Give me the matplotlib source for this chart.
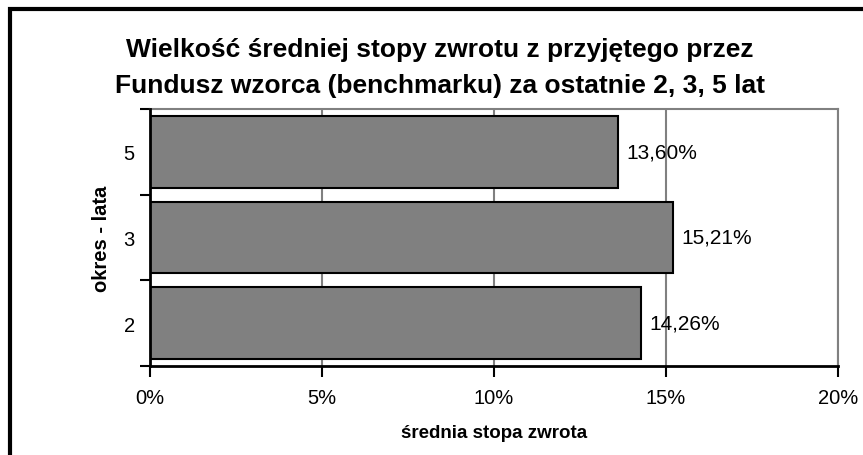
import numpy as np
import matplotlib.pyplot as plt
from matplotlib.patches import Rectangle
from matplotlib.ticker import FuncFormatter

plt.rcParams['font.family'] = ['Liberation Sans', 'DejaVu Sans']

periods = ['2', '3', '5']
returns = [14.26, 15.21, 13.60]
x_ticks = [0, 5, 10, 15, 20]

title = 'Wielkość średniej stopy zwrotu z przyjętego przez\nFundusz wzorca (benchmarku) za ostatnie 2, 3, 5 lat'

fig = plt.figure(figsize=(8.63, 4.56), dpi=100)
ax = fig.add_axes([150 / 863, 1 - 367 / 456, 688 / 863, 257 / 456])

y_pos = np.arange(len(periods))
ax.barh(y_pos, returns, height=0.84, color='#808080', edgecolor='black',
        linewidth=1.5, zorder=3)

for y, v in zip(y_pos, returns):
    ax.text(v + 0.25, y, f'{v:.2f}%'.replace('.', ','), va='center',
            ha='left', fontsize=15, zorder=4)

ax.set_xlim(0, 20)
ax.set_ylim(-0.5, len(periods) - 0.5)
ax.set_xticks(x_ticks)
ax.xaxis.set_major_formatter(FuncFormatter(lambda v, p: f'{v:.0f}%'))
ax.set_yticks(y_pos)
ax.set_yticklabels(periods)
ax.set_yticks(np.arange(len(periods) + 1) - 0.5, minor=True)
ax.tick_params(axis='y', which='major', length=0, pad=11, labelsize=14.5)
ax.tick_params(axis='y', which='minor', length=7, width=1.5, direction='out')
ax.tick_params(axis='x', length=8, width=1.5, direction='out', pad=8,
               labelsize=14.5)

ax.grid(axis='x', color='#808080', linewidth=1.5, zorder=0)
for side in ['top', 'right']:
    ax.spines[side].set_color('#808080')
    ax.spines[side].set_linewidth(1.5)
for side in ['left', 'bottom']:
    ax.spines[side].set_linewidth(2)
    ax.spines[side].set_zorder(5)

ax.set_xlabel('średnia stopa zwrota', fontsize=13.5, fontweight='bold',
              labelpad=12)
ax.set_ylabel('okres - lata', fontsize=14.5, fontweight='bold', labelpad=9)

fig.text(440 / 863, 1 - 68 / 456, title, ha='center', va='center',
         fontsize=19, fontweight='bold', linespacing=1.6)

fig.patches.append(Rectangle((10 / 863, -0.1), 1.2, 1 - 10 / 456 + 0.1,
                             transform=fig.transFigure, fill=False,
                             edgecolor='black', linewidth=3))

fig.savefig('out.png', dpi=100)
